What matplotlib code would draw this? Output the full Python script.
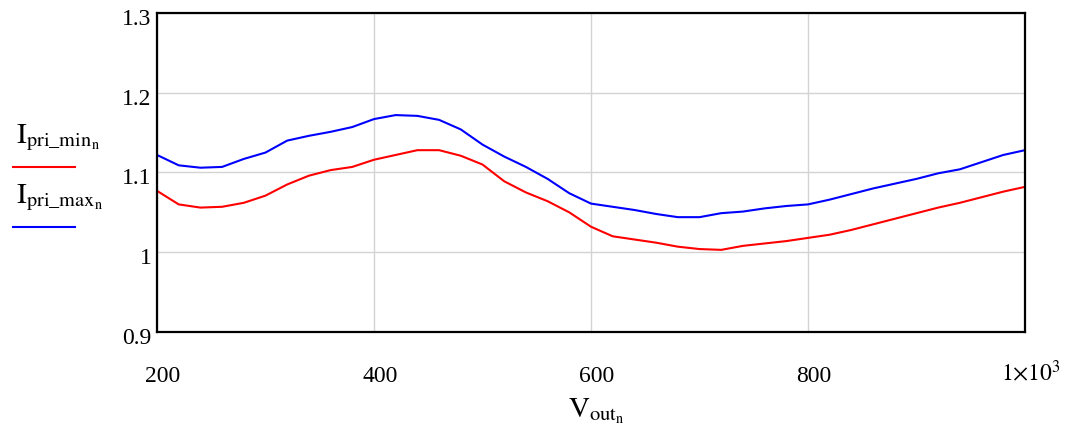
import matplotlib
matplotlib.use("Agg")
import matplotlib.pyplot as plt
import matplotlib.transforms as mtransforms
from matplotlib.lines import Line2D

plt.rcParams['font.family'] = ['Liberation Serif', 'DejaVu Serif']
plt.rcParams['mathtext.fontset'] = 'stix'

v_out = [200, 220, 240, 260, 280, 300, 320, 340, 360, 380, 400, 420, 440, 460, 480,
         500, 520, 540, 560, 580, 600, 620, 640, 660, 680, 700, 720, 740, 760, 780,
         800, 820, 840, 860, 880, 900, 920, 940, 960, 980, 1000]

i_pri_max = [1.122, 1.109, 1.106, 1.107, 1.117, 1.125, 1.140, 1.146, 1.151, 1.157,
             1.167, 1.172, 1.171, 1.166, 1.154, 1.135, 1.120, 1.107, 1.092, 1.074,
             1.061, 1.057, 1.053, 1.048, 1.044, 1.044, 1.049, 1.051, 1.055, 1.058,
             1.060, 1.066, 1.073, 1.080, 1.086, 1.092, 1.099, 1.104, 1.113, 1.122, 1.128]

i_pri_min = [1.077, 1.060, 1.056, 1.057, 1.062, 1.071, 1.085, 1.096, 1.103, 1.107,
             1.116, 1.122, 1.128, 1.128, 1.121, 1.110, 1.089, 1.075, 1.064, 1.050,
             1.032, 1.020, 1.016, 1.012, 1.007, 1.004, 1.003, 1.008, 1.011, 1.014,
             1.018, 1.022, 1.028, 1.035, 1.042, 1.049, 1.056, 1.062, 1.069, 1.076, 1.082]

x_ticks = [200, 400, 600, 800, 1000]
x_ticklabels = ['200', '400', '600', '800', r'$1{\times}10^{3}$']
y_ticks = [0.9, 1.0, 1.1, 1.2, 1.3]
y_ticklabels = ['0.9', '1', '1.1', '1.2', '1.3']

fig = plt.figure(figsize=(10.7, 4.27), dpi=100)
ax = fig.add_axes([157/1070, 1 - 333/427, (1025-157)/1070, (333-14)/427])

ax.plot(v_out, i_pri_min, color='#ff0000', lw=1.5)
ax.plot(v_out, i_pri_max, color='#0000ff', lw=1.5)

ax.set_xlim(200, 1000)
ax.set_ylim(0.9, 1.3)
ax.set_xticks(x_ticks)
ax.set_xticklabels(x_ticklabels, fontsize=17)
ax.set_yticks(y_ticks)
ax.set_yticklabels(y_ticklabels, fontsize=17)
ax.tick_params(axis='both', length=0)
ax.tick_params(axis='x', pad=24)
ax.tick_params(axis='y', pad=4)
ax.grid(True, color='#d3d3d3', lw=1.0)
ax.set_axisbelow(True)
for s in ax.spines.values():
    s.set_color('black')
    s.set_linewidth(1.6)

# shift tick labels slightly
offx = mtransforms.ScaledTranslation(6/100, 0, fig.dpi_scale_trans)
offx_last = mtransforms.ScaledTranslation(6/100, 7/100, fig.dpi_scale_trans)
xlbls = ax.get_xticklabels()
for i, lbl in enumerate(xlbls):
    lbl.set_transform(lbl.get_transform() + (offx_last if i == len(xlbls) - 1 else offx))
offy = mtransforms.ScaledTranslation(0, -3/100, fig.dpi_scale_trans)
for lbl in ax.get_yticklabels():
    lbl.set_transform(lbl.get_transform() + offy)

fig.text(596/1070, 1 - 411/427, r'$\mathrm{V}_{\mathrm{out}_{\mathrm{n}}}$',
         fontsize=21, ha='center', va='center')

# legend on the left
fig.text(16/1070, 1 - 143/427, r'$\mathrm{I}_{\mathrm{pri\_min}_{\mathrm{n}}}$',
         fontsize=21, ha='left', va='baseline')
fig.add_artist(Line2D([13/1070, 75/1070], [1 - 168/427, 1 - 168/427],
                      color='#ff0000', lw=1.5, transform=fig.transFigure))
fig.text(16/1070, 1 - 203/427, r'$\mathrm{I}_{\mathrm{pri\_max}_{\mathrm{n}}}$',
         fontsize=21, ha='left', va='baseline')
fig.add_artist(Line2D([13/1070, 75/1070], [1 - 228/427, 1 - 228/427],
                      color='#0000ff', lw=1.5, transform=fig.transFigure))

fig.savefig('out.png', dpi=100)
